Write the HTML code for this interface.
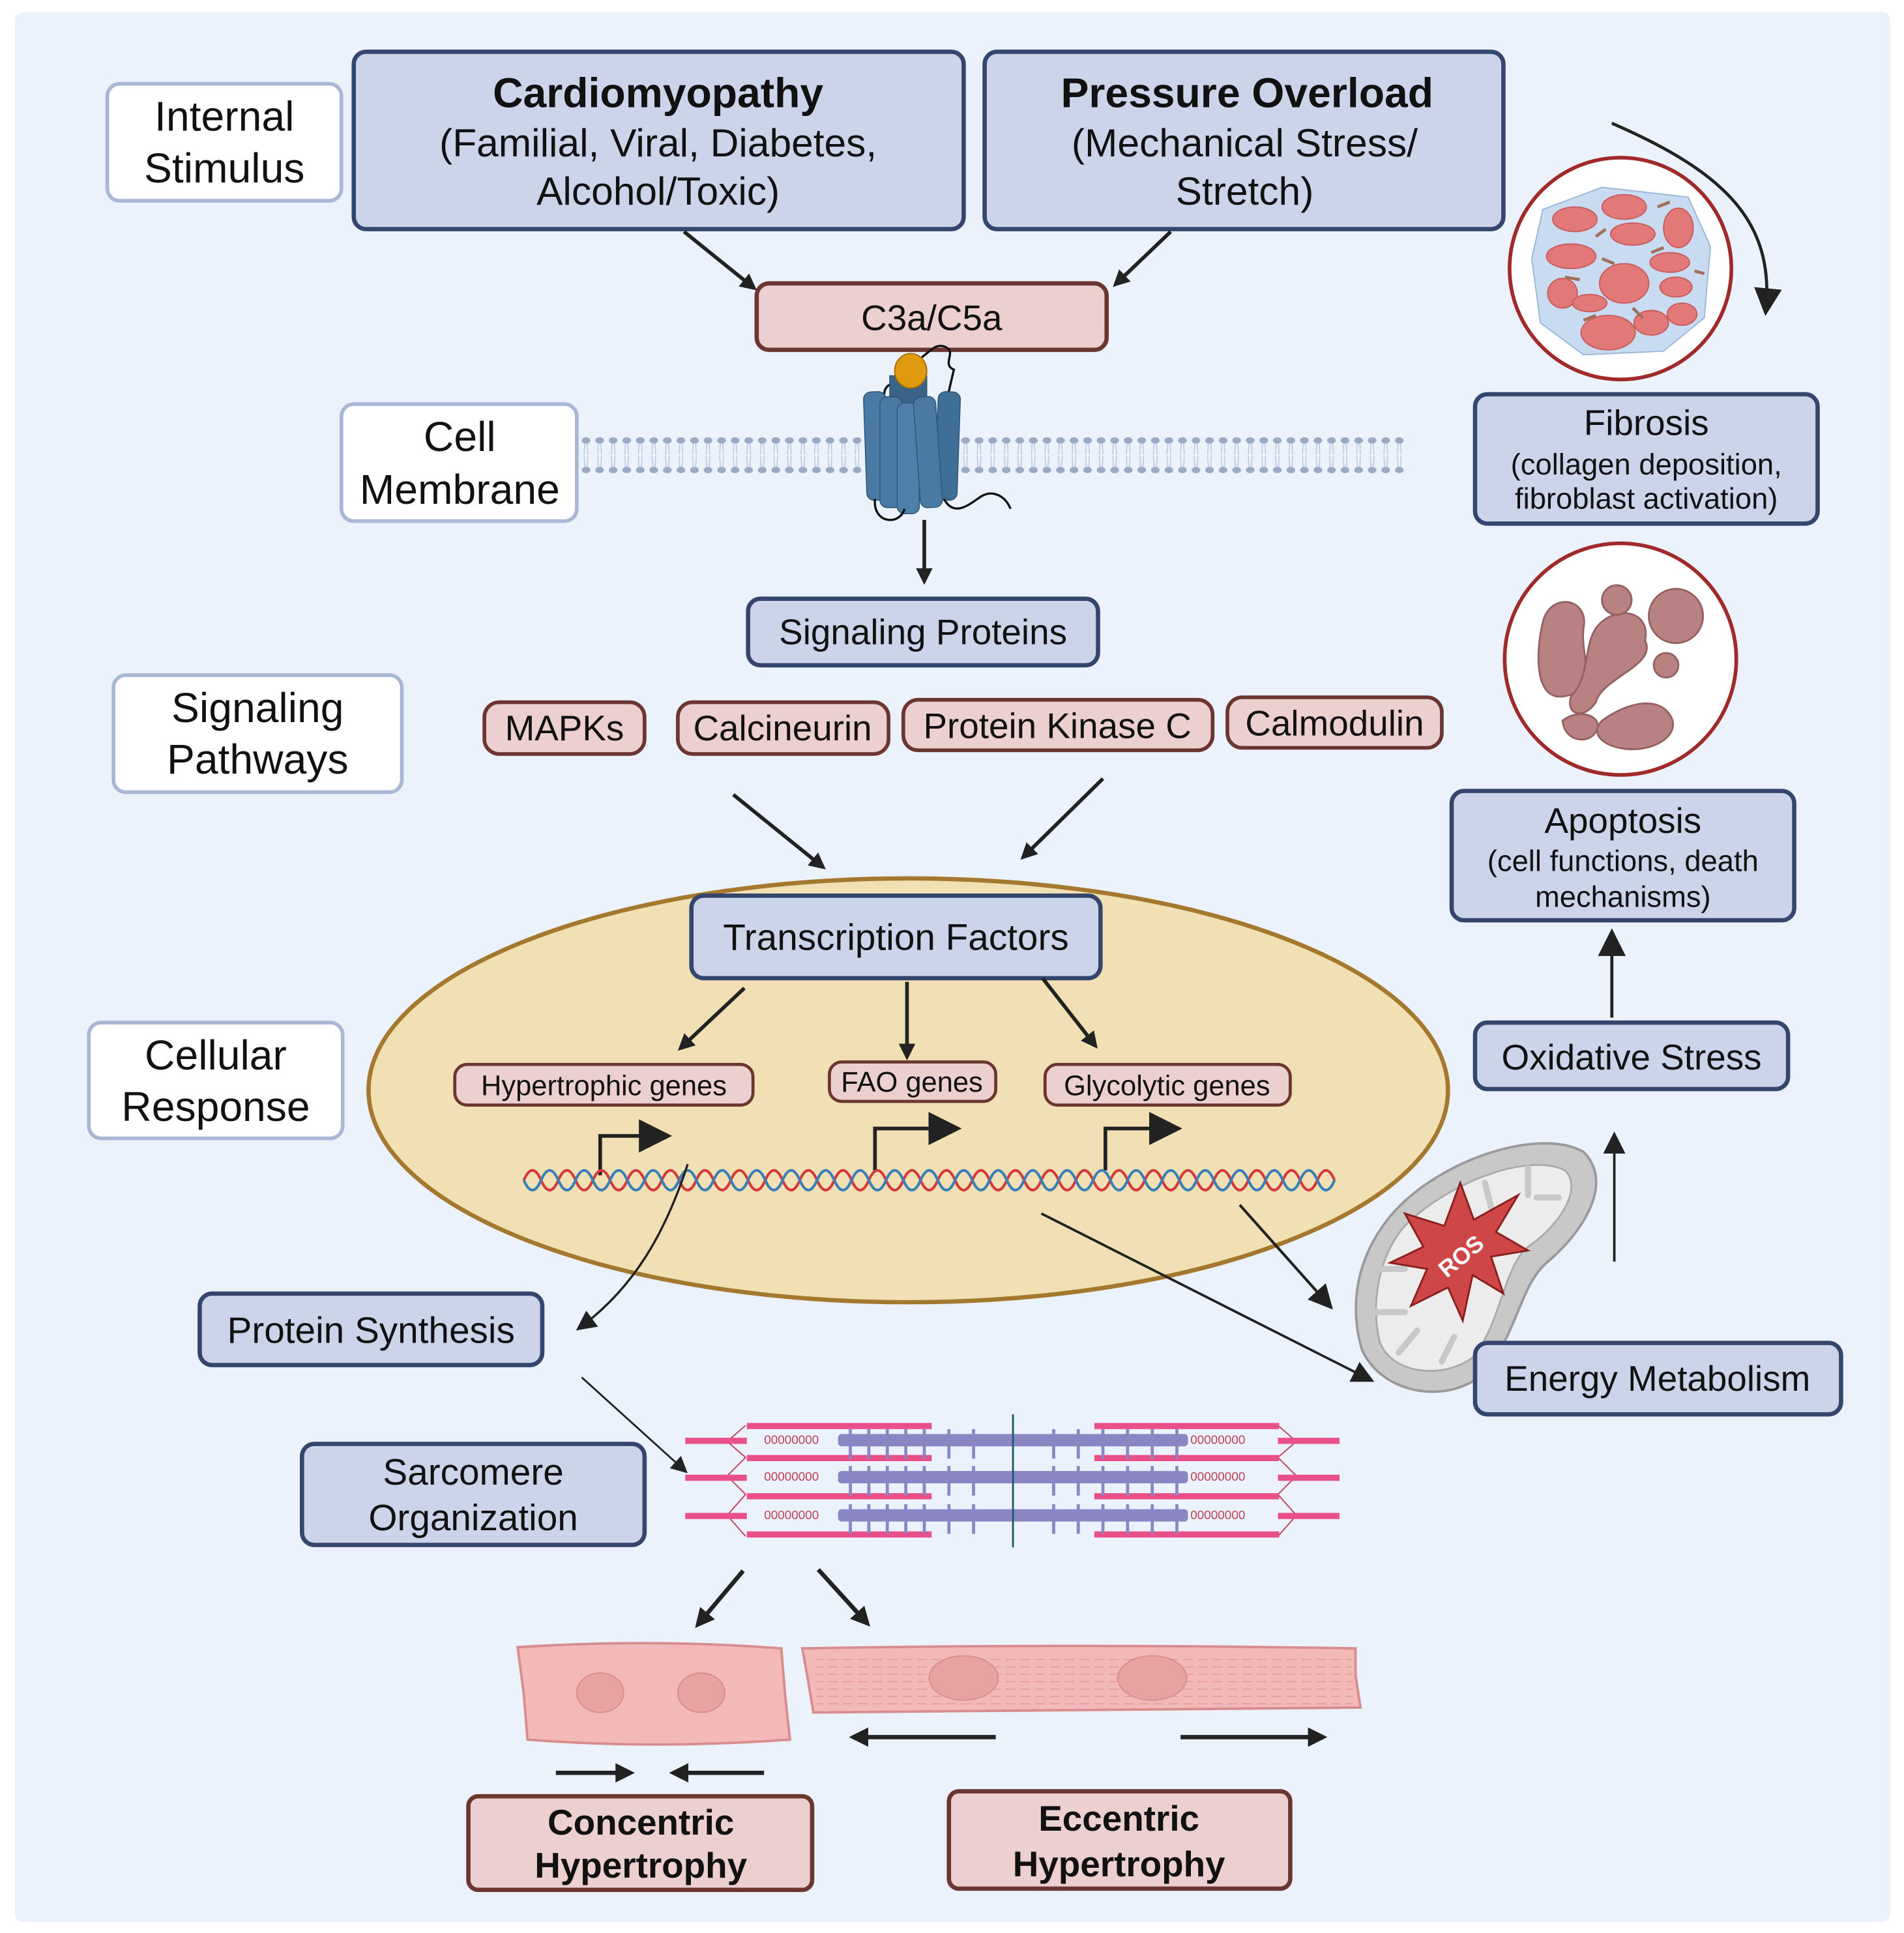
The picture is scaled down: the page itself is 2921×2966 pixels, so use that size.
<!DOCTYPE html>
<html><head><meta charset="utf-8"><style>
html,body{margin:0;padding:0;background:#fff;}
svg{display:block;}
text{font-family:"Liberation Sans",sans-serif;fill:#111;}
</style></head><body>
<svg width="2921" height="2966" viewBox="0 0 1545 1569" xmlns="http://www.w3.org/2000/svg">
<defs>
<marker id="ah" viewBox="0 0 10 10" refX="8" refY="5" markerWidth="4.5" markerHeight="4.5" orient="auto-start-reverse"><path d="M0,0 L10,5 L0,10 z" fill="#222"/></marker>
<marker id="ahs" viewBox="0 0 10 10" refX="8" refY="5" markerWidth="9" markerHeight="9" orient="auto"><path d="M0,0 L10,5 L0,10 z" fill="#222"/></marker>
<pattern id="mem" x="470" y="355" width="11" height="29" patternUnits="userSpaceOnUse">
<ellipse cx="5.5" cy="2.5" rx="3.5" ry="2.6" fill="#9aaac6"/><ellipse cx="5.5" cy="26.5" rx="3.5" ry="2.6" fill="#9aaac6"/>
<path d="M4.5,5 L4,14 M6.5,5 L7,14 M4,15 L4.5,24 M7,15 L6.5,24" stroke="#b8c6de" stroke-width="0.8" fill="none"/>
</pattern>
<pattern id="stri" width="12" height="6" patternUnits="userSpaceOnUse"><path d="M0,3 h8" stroke="#e29a9a" stroke-width="0.8"/></pattern>
</defs>
<rect x="0" y="0" width="1545" height="1569" fill="#ffffff"/>
<rect x="12" y="10" width="1522" height="1550" rx="6" fill="#ebf2fb"/>

<rect x="87" y="68" width="190" height="95" rx="10" fill="#fff" stroke="#a9b7d6" stroke-width="3"/>
<text x="182" y="106" font-size="34" text-anchor="middle">Internal</text>
<text x="182" y="148" font-size="34" text-anchor="middle">Stimulus</text>

<rect x="287" y="42" width="495" height="144" rx="10" fill="#ccd4ea" stroke="#35466e" stroke-width="3.5"/>
<text x="534" y="87" font-size="34" font-weight="bold" text-anchor="middle">Cardiomyopathy</text>
<text x="534" y="127" font-size="32" text-anchor="middle">(Familial, Viral, Diabetes,</text>
<text x="534" y="166" font-size="32" text-anchor="middle">Alcohol/Toxic)</text>

<rect x="799" y="42" width="421" height="144" rx="10" fill="#ccd4ea" stroke="#35466e" stroke-width="3.5"/>
<text x="1012" y="87" font-size="34" font-weight="bold" text-anchor="middle">Pressure Overload</text>
<text x="1010" y="127" font-size="32" text-anchor="middle">(Mechanical Stress/</text>
<text x="1010" y="166" font-size="32" text-anchor="middle">Stretch)</text>

<line x1="555" y1="188" x2="612" y2="234" stroke="#222" stroke-width="3" marker-end="url(#ah)"/>
<line x1="950" y1="188" x2="905" y2="231" stroke="#222" stroke-width="3" marker-end="url(#ah)"/>

<rect x="614" y="230" width="284" height="54" rx="10" fill="#eccfcf" stroke="#6b3530" stroke-width="3.5"/>
<text x="756" y="268" font-size="29" text-anchor="middle">C3a/C5a</text>

<rect x="277" y="328" width="191" height="95" rx="10" fill="#fff" stroke="#a9b7d6" stroke-width="3"/>
<text x="373" y="366" font-size="34" text-anchor="middle">Cell</text>
<text x="373" y="409" font-size="34" text-anchor="middle">Membrane</text>
<rect x="470" y="355" width="673" height="29" fill="url(#mem)"/>
<g stroke="#2c5577" stroke-width="0.8">
<path d="M748,290 c8,-6 12,-12 20,-8 c8,4 -4,14 6,18 l-6,26" fill="none" stroke="#111" stroke-width="1.8"/>
<path d="M718,325 c-4,-16 14,-18 14,-2" fill="none" stroke="#111" stroke-width="1.8"/>
<rect x="722" y="305" width="30" height="100" fill="#3a6588"/>
<rect x="702" y="318" width="18" height="88" rx="6" fill="#4a7aa3" transform="rotate(-2 711 360)"/>
<rect x="760" y="318" width="18" height="88" rx="6" fill="#3f6f96" transform="rotate(2 769 360)"/>
<rect x="714" y="322" width="18" height="90" rx="6" fill="#4a7aa3"/>
<rect x="728" y="327" width="18" height="90" rx="6" fill="#4f80aa"/>
<rect x="744" y="322" width="18" height="90" rx="6" fill="#4a7aa3" transform="rotate(-4 753 367)"/>
</g>
<ellipse cx="739" cy="301" rx="13" ry="14" fill="#e09a10" stroke="#a86b00" stroke-width="1"/>
<path d="M710,405 c-2,20 20,22 24,8 M766,405 c8,15 20,5 30,-2 c10,-6 20,0 24,10" fill="none" stroke="#111" stroke-width="1.8"/>
<line x1="750" y1="422" x2="750" y2="472" stroke="#222" stroke-width="3" marker-end="url(#ah)"/>

<rect x="607" y="486" width="284" height="54" rx="10" fill="#ccd4ea" stroke="#35466e" stroke-width="3.5"/>
<text x="749" y="523" font-size="29" text-anchor="middle">Signaling Proteins</text>

<rect x="92" y="548" width="234" height="95" rx="10" fill="#fff" stroke="#a9b7d6" stroke-width="3"/>
<text x="209" y="586" font-size="34" text-anchor="middle">Signaling</text>
<text x="209" y="628" font-size="34" text-anchor="middle">Pathways</text>

<g font-size="29">
<rect x="393" y="570" width="130" height="42" rx="12" fill="#eccfcf" stroke="#6b3530" stroke-width="3"/>
<text x="458" y="601" text-anchor="middle">MAPKs</text>
<rect x="550" y="570" width="171" height="42" rx="12" fill="#eccfcf" stroke="#6b3530" stroke-width="3"/>
<text x="635" y="601" text-anchor="middle">Calcineurin</text>
<rect x="733" y="568" width="251" height="41" rx="12" fill="#eccfcf" stroke="#6b3530" stroke-width="3"/>
<text x="858" y="599" text-anchor="middle">Protein Kinase C</text>
<rect x="996" y="566" width="174" height="41" rx="12" fill="#eccfcf" stroke="#6b3530" stroke-width="3"/>
<text x="1083" y="597" text-anchor="middle">Calmodulin</text>
</g>
<line x1="595" y1="645" x2="668" y2="704" stroke="#222" stroke-width="3" marker-end="url(#ah)"/>
<line x1="895" y1="632" x2="830" y2="696" stroke="#222" stroke-width="3" marker-end="url(#ah)"/>

<ellipse cx="737" cy="885" rx="438" ry="172" fill="#f1e0b4" stroke="#a5782f" stroke-width="3.5"/>
<rect x="561" y="727" width="332" height="67" rx="10" fill="#ccd4ea" stroke="#35466e" stroke-width="3.5"/>
<text x="727" y="771" font-size="30" text-anchor="middle">Transcription Factors</text>

<rect x="72" y="830" width="206" height="94" rx="10" fill="#fff" stroke="#a9b7d6" stroke-width="3"/>
<text x="175" y="868" font-size="34" text-anchor="middle">Cellular</text>
<text x="175" y="910" font-size="34" text-anchor="middle">Response</text>

<line x1="604" y1="802" x2="552" y2="851" stroke="#222" stroke-width="3" marker-end="url(#ah)"/>
<line x1="736" y1="797" x2="736" y2="858" stroke="#222" stroke-width="3" marker-end="url(#ah)"/>
<line x1="846" y1="794" x2="889" y2="849" stroke="#222" stroke-width="3" marker-end="url(#ah)"/>

<g font-size="23">
<rect x="369" y="864" width="242" height="33" rx="10" fill="#eccfcf" stroke="#6b3530" stroke-width="2.5"/>
<text x="490" y="889" text-anchor="middle">Hypertrophic genes</text>
<rect x="673" y="862" width="135" height="32" rx="10" fill="#eccfcf" stroke="#6b3530" stroke-width="2.5"/>
<text x="740" y="886" text-anchor="middle">FAO genes</text>
<rect x="848" y="864" width="199" height="33" rx="10" fill="#eccfcf" stroke="#6b3530" stroke-width="2.5"/>
<text x="947" y="889" text-anchor="middle">Glycolytic genes</text>
</g>
<g stroke="#222" stroke-width="3" fill="none">
<path d="M487,954 V922 H540" marker-end="url(#ahs)"/>
<path d="M710,950 V916 H775" marker-end="url(#ahs)"/>
<path d="M897,950 V916 H954" marker-end="url(#ahs)"/>
</g>
<g fill="none" stroke-width="2.2">
<path stroke="#d43a3a" d="M425,958 q7,-16 14,0 t14,0 t14,0 t14,0 t14,0 t14,0 t14,0 t14,0 t14,0 t14,0 t14,0 t14,0 t14,0 t14,0 t14,0 t14,0 t14,0 t14,0 t14,0 t14,0 t14,0 t14,0 t14,0 t14,0 t14,0 t14,0 t14,0 t14,0 t14,0 t14,0 t14,0 t14,0 t14,0 t14,0 t14,0 t14,0 t14,0 t14,0 t14,0 t14,0 t14,0 t14,0 t14,0 t14,0 t14,0 t14,0 t14,0"/>
<path stroke="#3a7fb8" d="M425,958 q7,16 14,0 t14,0 t14,0 t14,0 t14,0 t14,0 t14,0 t14,0 t14,0 t14,0 t14,0 t14,0 t14,0 t14,0 t14,0 t14,0 t14,0 t14,0 t14,0 t14,0 t14,0 t14,0 t14,0 t14,0 t14,0 t14,0 t14,0 t14,0 t14,0 t14,0 t14,0 t14,0 t14,0 t14,0 t14,0 t14,0 t14,0 t14,0 t14,0 t14,0 t14,0 t14,0 t14,0 t14,0 t14,0 t14,0 t14,0"/>
</g>

<path d="M558,945 C540,1000 515,1045 470,1078" fill="none" stroke="#222" stroke-width="1.8" marker-end="url(#ahs)"/>
<line x1="845" y1="985" x2="1112" y2="1120" stroke="#222" stroke-width="2" marker-end="url(#ahs)"/>
<line x1="1006" y1="978" x2="1079" y2="1060" stroke="#222" stroke-width="2.2" marker-end="url(#ahs)"/>

<rect x="162" y="1050" width="278" height="58" rx="10" fill="#ccd4ea" stroke="#35466e" stroke-width="3.5"/>
<text x="301" y="1090" font-size="30" text-anchor="middle">Protein Synthesis</text>
<line x1="472" y1="1118" x2="556" y2="1194" stroke="#222" stroke-width="1.5" marker-end="url(#ahs)"/>

<rect x="245" y="1172" width="278" height="82" rx="10" fill="#ccd4ea" stroke="#35466e" stroke-width="3.5"/>
<text x="384" y="1205" font-size="30" text-anchor="middle">Sarcomere</text>
<text x="384" y="1242" font-size="30" text-anchor="middle">Organization</text>

<g>
<g fill="none" stroke="#c0405a" stroke-width="1">
<path d="M605,1157 L590,1170 L605,1183 L590,1198 L605,1213 L590,1230 L605,1247"/>
<path d="M1037,1157 L1052,1170 L1037,1183 L1052,1198 L1037,1213 L1052,1230 L1037,1247"/>
</g>
<g fill="#e9508a">
<rect x="606" y="1155" width="150" height="5"/><rect x="888" y="1155" width="150" height="5"/>
<rect x="606" y="1181" width="150" height="5"/><rect x="888" y="1181" width="150" height="5"/>
<rect x="606" y="1212" width="150" height="5"/><rect x="888" y="1212" width="150" height="5"/>
<rect x="606" y="1243" width="150" height="5"/><rect x="888" y="1243" width="150" height="5"/>
<rect x="556" y="1167" width="50" height="5"/><rect x="1037" y="1167" width="50" height="5"/>
<rect x="556" y="1197" width="50" height="5"/><rect x="1037" y="1197" width="50" height="5"/>
<rect x="556" y="1228" width="50" height="5"/><rect x="1037" y="1228" width="50" height="5"/>
</g>
<g fill="#8a86c4">
<rect x="680" y="1164" width="284" height="10" rx="3"/>
<rect x="680" y="1194" width="284" height="10" rx="3"/>
<rect x="680" y="1225" width="284" height="10" rx="3"/>
</g>
<g stroke="#8a86c4" stroke-width="2.5">
<path d="M690,1160v24 M705,1160v24 M720,1160v24 M735,1160v24 M750,1160v24 M770,1160v24 M790,1160v24 M855,1160v24 M875,1160v24 M895,1160v24 M915,1160v24 M935,1160v24 M955,1160v24"/>
<path d="M690,1190v24 M705,1190v24 M720,1190v24 M735,1190v24 M750,1190v24 M770,1190v24 M790,1190v24 M855,1190v24 M875,1190v24 M895,1190v24 M915,1190v24 M935,1190v24 M955,1190v24"/>
<path d="M690,1221v24 M705,1221v24 M720,1221v24 M735,1221v24 M750,1221v24 M770,1221v24 M790,1221v24 M855,1221v24 M875,1221v24 M895,1221v24 M915,1221v24 M935,1221v24 M955,1221v24"/>
</g>
<g font-size="10"><text x="620" y="1172" style="fill:#c0405a">00000000</text><text x="966" y="1172" style="fill:#c0405a">00000000</text>
<text x="620" y="1202" style="fill:#c0405a">00000000</text><text x="966" y="1202" style="fill:#c0405a">00000000</text>
<text x="620" y="1233" style="fill:#c0405a">00000000</text><text x="966" y="1233" style="fill:#c0405a">00000000</text></g>
<line x1="822" y1="1148" x2="822" y2="1256" stroke="#1a5a6a" stroke-width="1.5"/>
</g>

<line x1="603" y1="1275" x2="566" y2="1319" stroke="#222" stroke-width="3.5" marker-end="url(#ah)"/>
<line x1="664" y1="1274" x2="704" y2="1318" stroke="#222" stroke-width="3.5" marker-end="url(#ah)"/>

<path d="M420,1337 Q530,1330 634,1338 L637,1375 L641,1412 Q530,1420 428,1412 L425,1375 Z" fill="#f3b8b8" stroke="#d88c8c" stroke-width="2"/>
<ellipse cx="487" cy="1374" rx="19" ry="16" fill="#e9a2a2" stroke="#d98c8c"/>
<ellipse cx="569" cy="1374" rx="19" ry="16" fill="#e9a2a2" stroke="#d98c8c"/>
<path d="M651,1338 Q870,1334 1100,1338 L1100,1360 L1104,1386 Q870,1388 660,1390 L655,1360 Z" fill="#f3b8b8" stroke="#d88c8c" stroke-width="2"/>
<rect x="662" y="1344" width="436" height="40" fill="url(#stri)"/>
<ellipse cx="782" cy="1362" rx="28" ry="18" fill="#e9a2a2" stroke="#d98c8c"/>
<ellipse cx="935" cy="1362" rx="28" ry="18" fill="#e9a2a2" stroke="#d98c8c"/>

<g stroke="#222" stroke-width="3.5">
<line x1="451" y1="1439" x2="512" y2="1439" marker-end="url(#ah)"/>
<line x1="620" y1="1439" x2="546" y2="1439" marker-end="url(#ah)"/>
<line x1="808" y1="1410" x2="692" y2="1410" marker-end="url(#ah)"/>
<line x1="958" y1="1410" x2="1074" y2="1410" marker-end="url(#ah)"/>
</g>

<rect x="380" y="1458" width="279" height="76" rx="8" fill="#eccfcf" stroke="#6b3530" stroke-width="3.5"/>
<text x="520" y="1489" font-size="29" font-weight="bold" text-anchor="middle">Concentric</text>
<text x="520" y="1524" font-size="29" font-weight="bold" text-anchor="middle">Hypertrophy</text>
<rect x="770" y="1454" width="277" height="79" rx="8" fill="#eccfcf" stroke="#6b3530" stroke-width="3.5"/>
<text x="908" y="1486" font-size="29" font-weight="bold" text-anchor="middle">Eccentric</text>
<text x="908" y="1523" font-size="29" font-weight="bold" text-anchor="middle">Hypertrophy</text>

<path d="M1308,100 C1400,140 1440,180 1433,252" fill="none" stroke="#222" stroke-width="2.5" marker-end="url(#ahs)"/>
<circle cx="1315" cy="218" r="90" fill="#fff" stroke="#a02a2a" stroke-width="3"/>
<path d="M1252,170 L1300,152 L1370,160 L1388,200 L1383,258 L1350,285 L1285,288 L1250,262 L1243,210 Z" fill="#c9dbf0" stroke="#98b6da"/>
<g fill="#e27878" stroke="#c85c5c">
<ellipse cx="1278" cy="178" rx="18" ry="10"/><ellipse cx="1318" cy="168" rx="18" ry="10"/><ellipse cx="1362" cy="185" rx="12" ry="16"/>
<ellipse cx="1275" cy="208" rx="20" ry="10"/><ellipse cx="1325" cy="190" rx="18" ry="9"/><ellipse cx="1355" cy="213" rx="16" ry="8"/>
<ellipse cx="1318" cy="230" rx="20" ry="16"/><ellipse cx="1268" cy="238" rx="12" ry="12"/><ellipse cx="1290" cy="246" rx="14" ry="7"/>
<ellipse cx="1360" cy="233" rx="13" ry="8"/><ellipse cx="1305" cy="270" rx="22" ry="14"/><ellipse cx="1340" cy="262" rx="14" ry="10"/><ellipse cx="1365" cy="255" rx="12" ry="9"/>
</g>
<g stroke="#a0705a" stroke-width="2.5"><path d="M1295,192 l8,-6 M1300,210 l10,4 M1340,205 l10,-4 M1270,225 l12,2 M1325,250 l8,8 M1285,260 l10,-4 M1375,220 l8,2 M1345,168 l10,-4"/></g>
<rect x="1197" y="320" width="278" height="105" rx="10" fill="#ccd4ea" stroke="#35466e" stroke-width="3.5"/>
<text x="1336" y="353" font-size="29" text-anchor="middle">Fibrosis</text>
<text x="1336" y="385" font-size="24" text-anchor="middle">(collagen deposition,</text>
<text x="1336" y="413" font-size="24" text-anchor="middle">fibroblast activation)</text>

<circle cx="1315" cy="535" r="94" fill="#fff" stroke="#a02a2a" stroke-width="3"/>
<g fill="#b88282" stroke="#946060" stroke-width="1.5">
<path d="M1252,505 C1258,480 1290,485 1285,510 C1282,535 1300,560 1270,565 C1245,570 1246,530 1252,505 Z"/>
<path d="M1295,510 C1310,490 1340,495 1335,520 C1345,540 1300,550 1295,570 C1285,585 1270,580 1275,565 C1290,550 1285,525 1295,510 Z"/>
<circle cx="1312" cy="487" r="12"/><circle cx="1360" cy="500" r="22"/><circle cx="1352" cy="540" r="10"/>
<path d="M1300,585 C1320,570 1345,565 1355,580 C1365,595 1345,610 1320,608 C1300,606 1290,595 1300,585 Z"/>
<path d="M1268,585 C1280,575 1300,580 1296,592 C1292,604 1270,604 1268,585 Z"/>
</g>
<rect x="1178" y="642" width="278" height="105" rx="10" fill="#ccd4ea" stroke="#35466e" stroke-width="3.5"/>
<text x="1317" y="676" font-size="29" text-anchor="middle">Apoptosis</text>
<text x="1317" y="707" font-size="24" text-anchor="middle">(cell functions, death</text>
<text x="1317" y="736" font-size="24" text-anchor="middle">mechanisms)</text>

<line x1="1308" y1="826" x2="1308" y2="758" stroke="#222" stroke-width="2.5" marker-end="url(#ahs)"/>
<rect x="1197" y="830" width="254" height="54" rx="10" fill="#ccd4ea" stroke="#35466e" stroke-width="3.5"/>
<text x="1324" y="868" font-size="29" text-anchor="middle">Oxidative Stress</text>

<line x1="1310" y1="1024" x2="1310" y2="922" stroke="#222" stroke-width="2" marker-end="url(#ahs)"/>
<path d="M1130,985 C1170,940 1250,915 1285,935 C1310,960 1285,1000 1255,1025 C1232,1045 1230,1090 1200,1118 C1170,1140 1120,1130 1105,1095 C1095,1060 1100,1020 1130,985 Z" fill="#c8c8c8" stroke="#9a9a9a" stroke-width="2"/>
<path d="M1140,995 C1175,960 1240,935 1270,950 C1285,965 1265,995 1240,1012 C1220,1028 1218,1075 1195,1102 C1170,1120 1130,1115 1120,1090 C1112,1060 1118,1020 1140,995 Z" fill="#ececec" stroke="#aaa" stroke-width="1.5"/>
<g stroke="#c8c8c8" stroke-width="5" stroke-linecap="round"><path d="M1120,1030 h20 M1115,1065 h25 M1135,1098 l15,-18 M1170,1105 l10,-20 M1205,960 l5,20 M1240,948 l0,22 M1265,972 h-18"/></g>
<path d="M1185,960 L1196,990 L1232,970 L1214,1000 L1240,1015 L1210,1020 L1220,1050 L1195,1035 L1187,1072 L1175,1045 L1145,1060 L1158,1030 L1128,1025 L1155,1012 L1140,985 L1172,995 Z" fill="#cf4646" stroke="#8a1e1e" stroke-width="1.5"/>
<text x="1186" y="1026" font-size="19" font-weight="bold" text-anchor="middle" transform="rotate(-40 1186 1020)" style="fill:#fff">ROS</text>

<rect x="1197" y="1090" width="297" height="58" rx="10" fill="#ccd4ea" stroke="#35466e" stroke-width="3.5"/>
<text x="1345" y="1129" font-size="29" text-anchor="middle">Energy Metabolism</text>
</svg>
</body></html>
